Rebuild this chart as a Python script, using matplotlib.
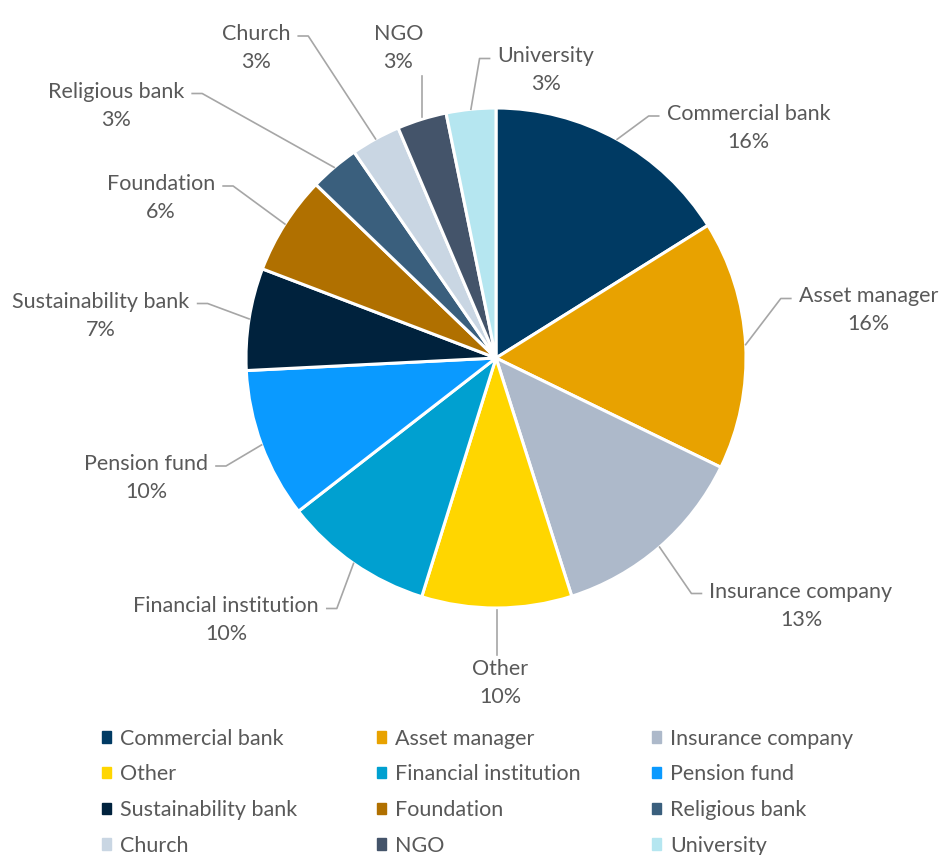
import numpy as np
import matplotlib
matplotlib.use('Agg')
import matplotlib.pyplot as plt
from matplotlib.patches import Rectangle

# data: share of respondents per type (%)
categories = ['Commercial bank', 'Asset manager', 'Insurance company', 'Other',
              'Financial institution', 'Pension fund', 'Sustainability bank',
              'Foundation', 'Religious bank', 'Church', 'NGO', 'University']
shares = [16.1, 16.1, 12.9, 9.7, 9.7, 9.7, 6.6, 6.4, 3.2, 3.2, 3.2, 3.2]
colors = ['#003A63', '#E8A200', '#ADB9CA', '#FFD600', '#00A0D0', '#0A9AFF',
          '#00223D', '#B07000', '#3A5F7D', '#C9D6E3', '#44546A', '#B5E6F0']

# label centres, in pie radii from the centre
label_pos = [(1.01, 0.92), (1.49, 0.19), (1.22, -0.99), (0.016, -1.30),
             (-1.08, -1.05), (-1.40, -0.48), (-1.58, 0.17), (-1.34, 0.64),
             (-1.52, 1.01), (-0.96, 1.24), (-0.39, 1.24), (0.20, 1.15)]

W, H = 942, 855
cx, cy, R = 496, H - 358, 250
txt_color = '#595959'
line_color = '#A6A6A6'
plt.rcParams['font.family'] = ['Lato', 'DejaVu Sans']

fig = plt.figure(figsize=(W / 100, H / 100), dpi=100)
ax = fig.add_axes([0, 0, 1, 1])

wedges, _ = ax.pie(shares, colors=colors, startangle=90, counterclock=False,
                   center=(cx, cy), radius=R, frame=True,
                   wedgeprops=dict(edgecolor='white', linewidth=2.2))
ax.set_xlim(0, W)
ax.set_ylim(0, H)
ax.axis('off')

total = sum(shares)
texts = []
for i, name in enumerate(categories):
    pct = shares[i] / total * 100
    lx = cx + label_pos[i][0] * R
    ly = cy + label_pos[i][1] * R
    t = ax.text(lx, ly, '%s\n%d%%' % (name, int(pct + 0.5)), ha='center', va='center',
                fontsize=15.5, color=txt_color, linespacing=1.5)
    texts.append(t)

fig.canvas.draw()
renderer = fig.canvas.get_renderer()

# leader lines from the middle of each wedge edge to the label
for i, w in enumerate(wedges):
    mid = np.deg2rad((w.theta1 + w.theta2) / 2)
    ex, ey = cx + R * np.cos(mid), cy + R * np.sin(mid)
    bb = texts[i].get_window_extent(renderer)
    lx = (bb.x0 + bb.x1) / 2
    if abs(lx - ex) < 40:
        if ey > cy:
            ax.plot([ex, ex], [ey + 2, bb.y0 - 4], color=line_color, lw=1.2)
        else:
            ax.plot([ex, ex], [ey - 2, bb.y1 + 4], color=line_color, lw=1.2)
        continue
    line_y = bb.y1 - bb.height / 4
    if lx > ex:
        sx1 = bb.x0 - 8
        sx0 = sx1 - 10
    else:
        sx1 = bb.x1 + 8
        sx0 = sx1 + 10
    ax.plot([ex, sx0, sx1], [ey, line_y, line_y], color=line_color, lw=1.2)

# legend: three columns, each one its own legend so the columns sit evenly
col_x = [93, 368, 643]
for c in range(3):
    idx = list(range(c, len(categories), 3))
    handles = [Rectangle((0, 0), 1, 1, color=colors[k]) for k in idx]
    leg = fig.legend(handles, [categories[k] for k in idx], loc='upper left',
                     bbox_to_anchor=(col_x[c] / W, 1 - 720 / H), frameon=False,
                     fontsize=15.5, handlelength=0.42, handleheight=0.42,
                     handletextpad=0.45, labelspacing=0.73, borderaxespad=0)
    for t in leg.get_texts():
        t.set_color(txt_color)

fig.savefig('out.png', dpi=100)
